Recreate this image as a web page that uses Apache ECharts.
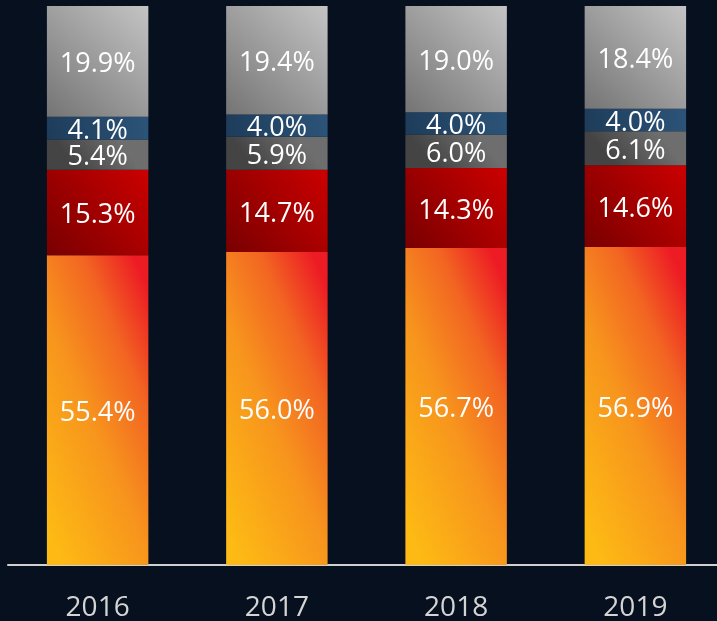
<!DOCTYPE html>
<html>
<head>
<meta charset="utf-8">
<style>
  html, body { margin: 0; padding: 0; background: #06101f; }
  #chart { width: 717px; height: 621px; }
</style>
<script src="https://cdn.jsdelivr.net/npm/echarts@6/dist/echarts.min.js"></script>
</head>
<body>
<div id="chart"></div>
<script>
// shares per year, bottom segment first
var years = ['2016', '2017', '2018', '2019'];
var seg1 = [55.4, 56.0, 56.7, 56.9];
var seg2 = [15.3, 14.7, 14.3, 14.6];
var seg3 = [5.4, 5.9, 6.0, 6.1];
var seg4 = [4.1, 4.0, 4.0, 4.0];
var seg5 = [19.9, 19.4, 19.0, 18.4];

(function() {
  // gradient from bottom-left to top-right
  function grad(stops, x, y, x2, y2) {
    return {
      type: 'linear', x: x, y: y, x2: x2, y2: y2,
      colorStops: stops.map(function(s) { return { offset: s[0], color: s[1] }; })
    };
  }

  function layer(name, data, color) {
    return {
      name: name,
      type: 'bar',
      stack: 'total',
      barWidth: '56.6%',
      data: data,
      itemStyle: { color: color },
      label: {
        show: true,
        position: 'inside',
        offset: [0, 3],
        color: '#ffffff',
        fontFamily: 'Open Sans',
        fontSize: 27,
        formatter: function(p) { return p.value.toFixed(1) + '%'; }
      }
    };
  }

  var chart = echarts.init(document.getElementById('chart'), null, { renderer: 'canvas' });
  chart.setOption({
    animation: false,
    backgroundColor: '#06101f',
    grid: { left: 8, right: -8, top: 6, bottom: 56, containLabel: false, outerBoundsMode: 'none' },
    xAxis: {
      type: 'category',
      data: years,
      axisLine: { lineStyle: { color: '#d0d0d0', width: 2 } },
      axisTick: { show: false },
      axisLabel: { color: '#d4d4d4', fontFamily: 'Open Sans', fontSize: 28, margin: 29 }
    },
    yAxis: {
      type: 'value',
      min: 0,
      max: 100,
      show: false
    },
    series: [
      // tall bars: flatten the diagonal so the colour runs mostly left to right
      layer('seg1', seg1, grad([[0, '#fdba14'], [0.45, '#f7941d'], [0.75, '#f26522'], [1, '#ed1c24']], -0.35, 0.62, 1.35, 0.38)),
      layer('seg2', seg2, grad([[0, '#780000'], [1, '#cc0000']], 0, 1, 1, 0)),
      layer('seg3', seg3, grad([[0, '#444444'], [1, '#6e6e6e']], 0.3, 1, 0.7, 0)),
      layer('seg4', seg4, grad([[0, '#1e3c5a'], [1, '#2c5479']], 0, 1, 1, 0)),
      layer('seg5', seg5, grad([[0, '#747474'], [1, '#c4c4c4']], 0, 1, 1, 0))
    ]
  });
  window.addEventListener('resize', function() { chart.resize(); });
})();
</script>
</body>
</html>
